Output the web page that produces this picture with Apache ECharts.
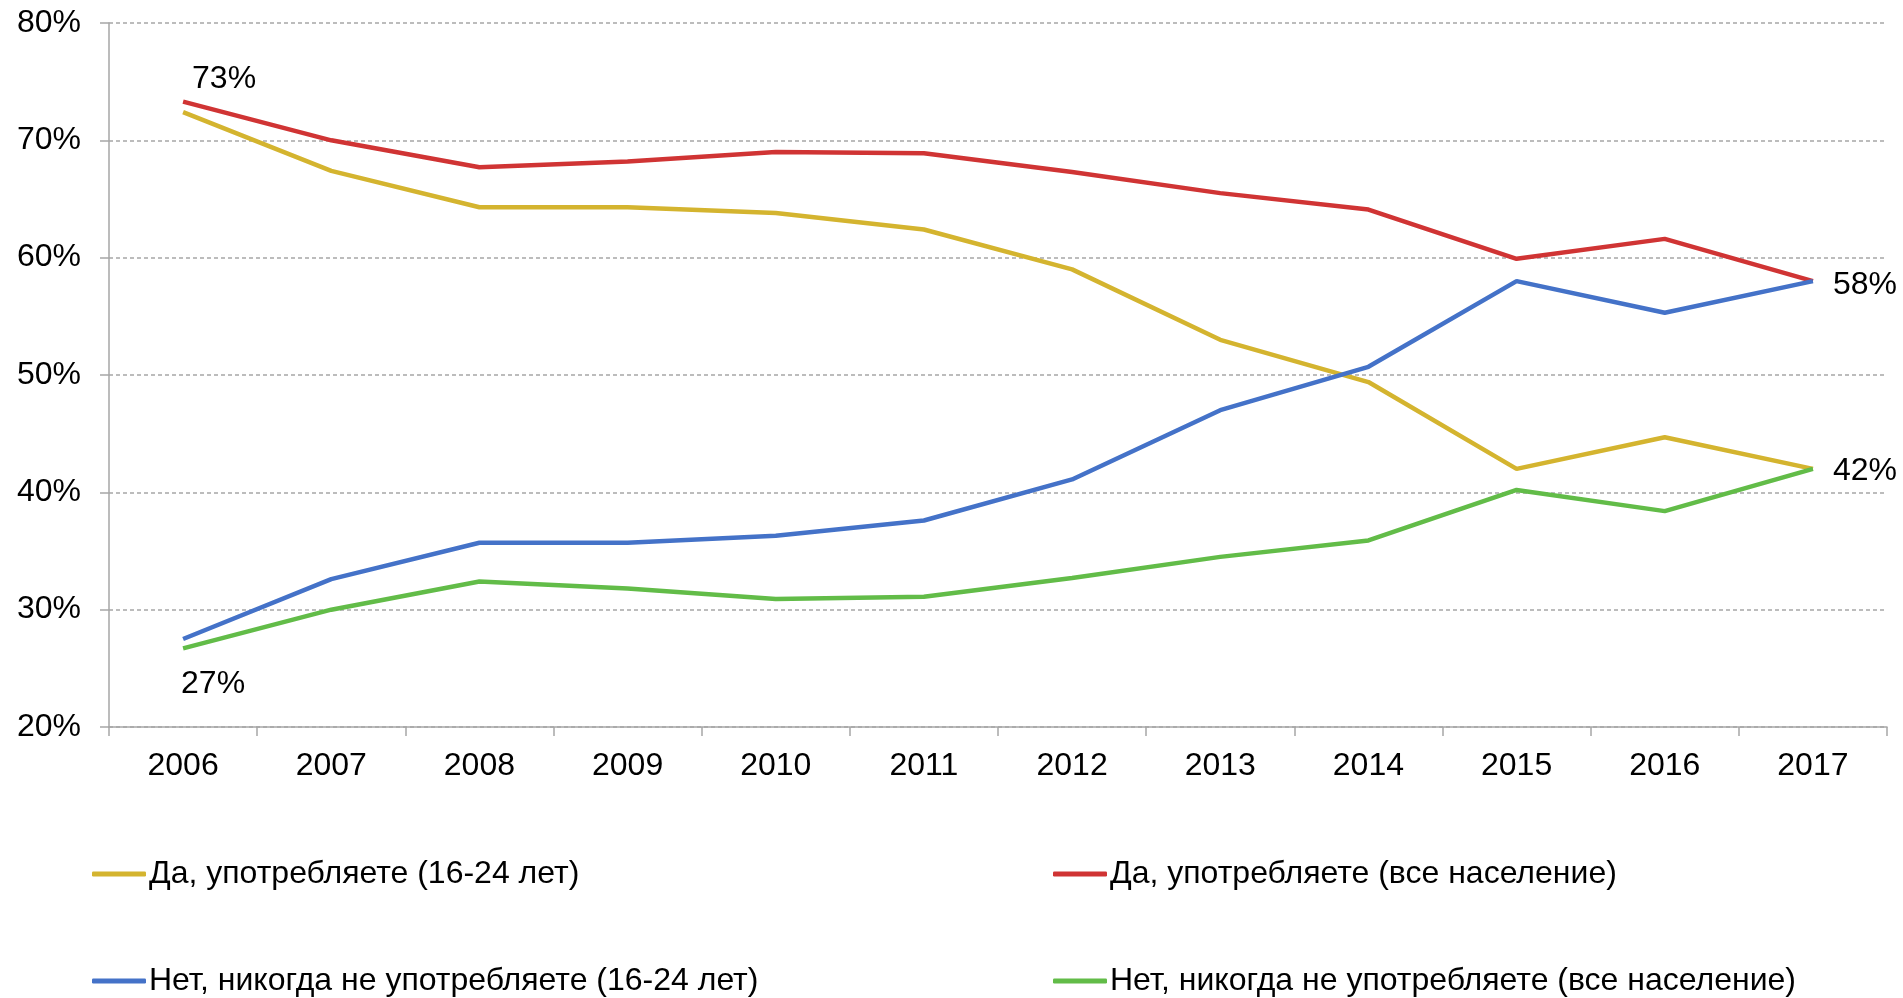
<!DOCTYPE html>
<html>
<head>
<meta charset="utf-8">
<script src="https://cdn.jsdelivr.net/npm/echarts@6/dist/echarts.min.js"></script>
<style>
html,body{margin:0;padding:0;background:#fff;}
#chart{width:1903px;height:998px;}
</style>
</head>
<body>
<div id="chart"></div>
<script>
const years = ['2006','2007','2008','2009','2010','2011','2012','2013','2014','2015','2016','2017'];
const seriesNames = [
  'Да, употребляете (16-24 лет)',
  'Да, употребляете (все население)',
  'Нет, никогда не употребляете (16-24 лет)',
  'Нет, никогда не употребляете (все население)'
];
const yesYouth = [72.4, 67.4, 64.3, 64.3, 63.8, 62.4, 59.0, 53.0, 49.4, 42.0, 44.7, 42.0];
const yesAll   = [73.3, 70.0, 67.7, 68.2, 69.0, 68.9, 67.3, 65.5, 64.1, 59.9, 61.6, 58.0];
const noYouth  = [27.5, 32.6, 35.7, 35.7, 36.3, 37.6, 41.1, 47.0, 50.7, 58.0, 55.3, 58.0];
const noAll    = [26.7, 30.0, 32.4, 31.8, 30.9, 31.1, 32.7, 34.5, 35.9, 40.2, 38.4, 42.0];
const yTicks = [20, 30, 40, 50, 60, 70, 80];
const colors = ['#D4B42F', '#D03434', '#4472C8', '#62BC48'];

const FONT = "'Liberation Sans', Arial, sans-serif";
const FS = 32;
const labelStyle = {color: '#000', fontSize: FS, fontFamily: FONT};

// build data with selected point labels (positions only, text from values)
function withLabels(values, specs) {
  return values.map((v, i) => {
    const s = specs[i];
    if (!s) return v;
    return {value: v, label: Object.assign({show: true, formatter: p => Math.round(p.value) + '%'}, labelStyle, s)};
  });
}
const last = years.length - 1;

const chart = echarts.init(document.getElementById('chart'));
const legendPos = [
  {left: 87, top: 853},
  {left: 1048, top: 853},
  {left: 87, top: 960},
  {left: 1048, top: 960}
];
const lineCommon = {type: 'line', symbol: 'circle', symbolSize: 0, showSymbol: true, silent: true};
chart.setOption({
  animation: false,
  color: colors,
  grid: {left: 109, right: 16, top: 23, bottom: 271, containLabel: false},
  legend: seriesNames.map((n, i) => ({
    data: [n],
    left: legendPos[i].left,
    top: legendPos[i].top,
    icon: 'roundRect',
    itemWidth: 54,
    itemHeight: 5,
    textStyle: {color: '#000', fontSize: FS, fontFamily: FONT, padding: [0, 0, 0, -2]}
  })),
  xAxis: {
    type: 'category',
    data: years,
    boundaryGap: true,
    axisLine: {lineStyle: {color: '#A6A6A6', width: 1.5}},
    axisTick: {show: true, length: 9, lineStyle: {color: '#A6A6A6', width: 1.5}},
    axisLabel: {color: '#000', fontSize: FS, fontFamily: FONT, margin: 23}
  },
  yAxis: {
    type: 'value',
    min: yTicks[0],
    max: yTicks[yTicks.length - 1],
    interval: 10,
    axisLine: {show: true, lineStyle: {color: '#A6A6A6', width: 1.5}},
    axisTick: {show: true, length: 9, lineStyle: {color: '#A6A6A6', width: 1.5}},
    axisLabel: {color: '#000', fontSize: FS, fontFamily: FONT, margin: 28, formatter: '{value}%'},
    splitLine: {show: true, lineStyle: {color: '#A6A6A6', type: [4, 3], width: 1.5}}
  },
  series: [
    Object.assign({name: seriesNames[0], data: yesYouth,
     lineStyle: {width: 4.5, color: colors[0]}, itemStyle: {color: colors[0]}, z: 2}, lineCommon),
    Object.assign({name: seriesNames[1],
     data: withLabels(yesAll, {0: {position: 'top', offset: [41, -1]}}),
     lineStyle: {width: 4.5, color: colors[1]}, itemStyle: {color: colors[1]}, z: 3}, lineCommon),
    Object.assign({name: seriesNames[2],
     data: withLabels(noYouth, {[last]: {position: 'right', distance: 20, offset: [0, 4]}}),
     lineStyle: {width: 4.5, color: colors[2]}, itemStyle: {color: colors[2]}, z: 4}, lineCommon),
    Object.assign({name: seriesNames[3],
     data: withLabels(noAll, {0: {position: 'bottom', offset: [30, 15]}, [last]: {position: 'right', distance: 20, offset: [0, 2]}}),
     lineStyle: {width: 4.5, color: colors[3]}, itemStyle: {color: colors[3]}, z: 5}, lineCommon)
  ]
});
</script>
</body>
</html>
